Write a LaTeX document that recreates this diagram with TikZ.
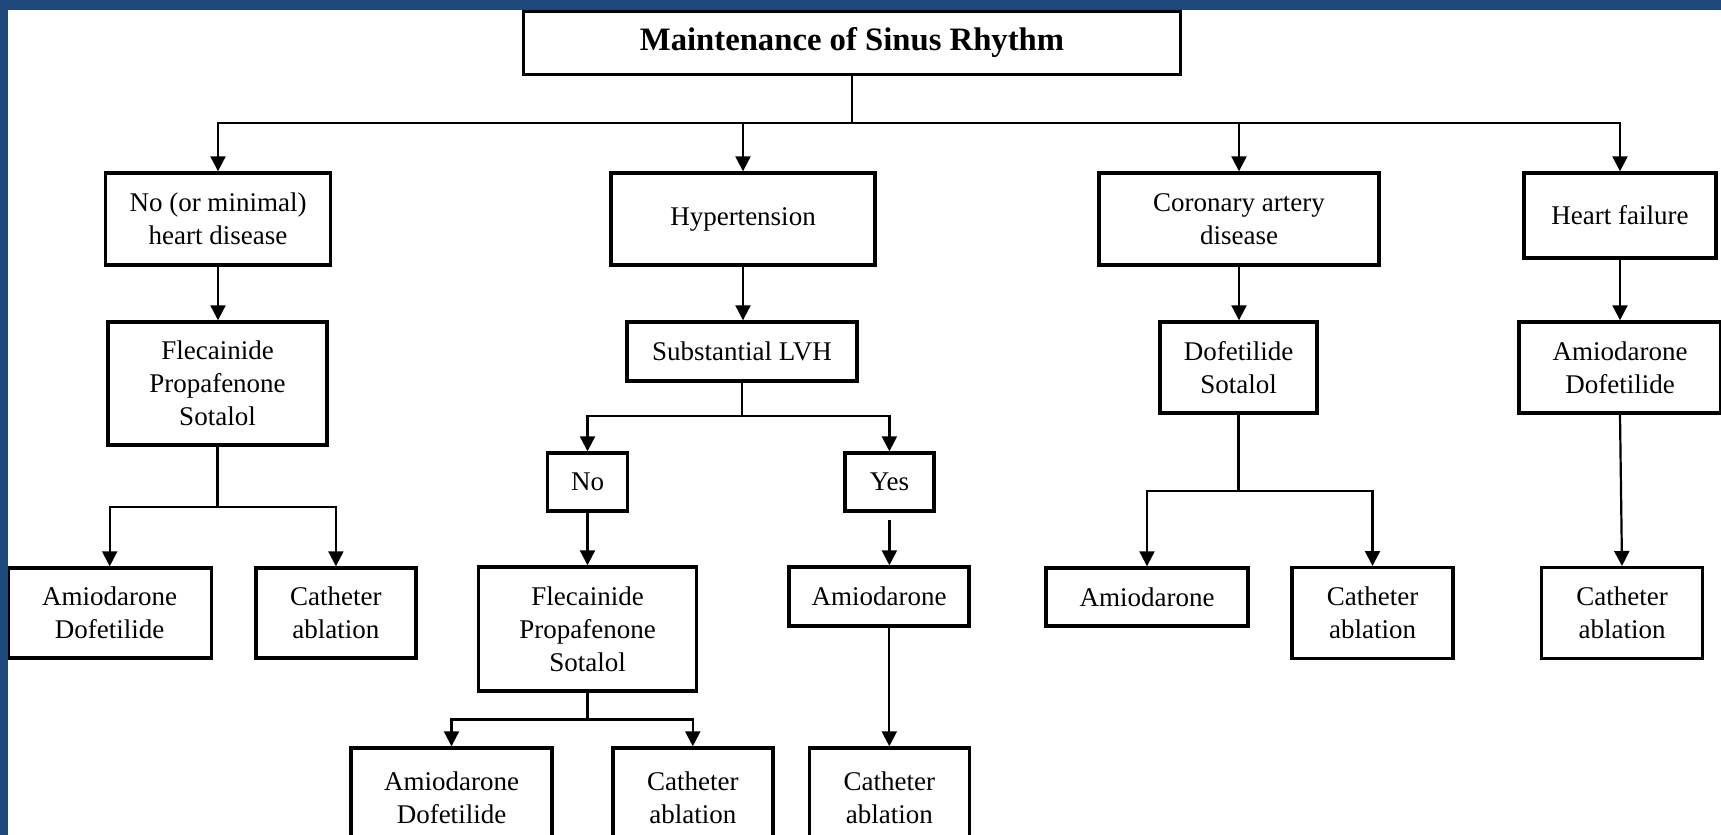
\documentclass[tikz,border=0pt]{standalone}
\usepackage{fontspec}
\setmainfont{Liberation Serif}
\usetikzlibrary{arrows.meta}
\definecolor{frameblue}{RGB}{31,73,125}
\begin{document}
\begin{tikzpicture}[x=1pt,y=-1pt,
  box/.style={draw, line width=3.4pt, inner sep=0pt, align=center,
    font=\fontsize{27}{33}\selectfont},
  conn/.style={line width=2.2pt},
  arr/.style={conn, -{Triangle[length=15pt,width=15pt]}}]
\useasboundingbox (0,0) rectangle (1721,835);
\clip (0,0) rectangle (1721,835);
\fill[white] (0,0) rectangle (1721,835);

% root
\node[box, minimum width=657pt, minimum height=63pt,
  font=\fontsize{32.7}{38}\selectfont\bfseries] (top) at (852,43) {Maintenance of Sinus Rhythm};

% first level: underlying condition
\node[box, minimum width=225pt, minimum height=92pt] (A) at (218,219) {No (or minimal)\\heart disease};
\node[box, minimum width=264pt, minimum height=92pt] (B) at (743,219) {Hypertension};
\node[box, minimum width=280pt, minimum height=92pt] (C) at (1239,219) {Coronary artery\\disease};
\node[box, minimum width=192pt, minimum height=85pt] (D) at (1620,215.5) {Heart failure};

% second level
\node[box, minimum width=219pt, minimum height=123pt] (A2) at (217.5,383.5) {Flecainide\\Propafenone\\Sotalol};
\node[box, minimum width=230pt, minimum height=59pt] (B2) at (742,351.5) {Substantial LVH};
\node[box, minimum width=157pt, minimum height=91pt] (C2) at (1238.5,367.5) {Dofetilide\\Sotalol};
\node[box, minimum width=202pt, minimum height=91pt] (D2) at (1620,367.5) {Amiodarone\\Dofetilide};

% no / minimal heart disease branch
\node[box, minimum width=203pt, minimum height=90pt] (A3a) at (109.7,613) {Amiodarone\\Dofetilide};
\node[box, minimum width=160pt, minimum height=90pt] (A3b) at (335.9,613) {Catheter\\ablation};

% hypertension branch
\node[box, minimum width=80pt, minimum height=58pt] (no) at (587.5,482) {No};
\node[box, minimum width=89pt, minimum height=58pt] (yes) at (889.4,482) {Yes};
\node[box, minimum width=218pt, minimum height=124pt] (F2) at (587.5,629) {Flecainide\\Propafenone\\Sotalol};
\node[box, minimum width=180pt, minimum height=59pt] (amio) at (879,596.5) {Amiodarone};
\node[box, minimum width=201pt, minimum height=100pt] (B3a) at (451.5,798) {Amiodarone\\Dofetilide};
\node[box, minimum width=160pt, minimum height=100pt] (B3b) at (692.8,798) {Catheter\\ablation};
\node[box, minimum width=160pt, minimum height=100pt] (Y3) at (889.3,798) {Catheter\\ablation};

% coronary artery disease branch
\node[box, minimum width=202pt, minimum height=58pt] (C3a) at (1147,597) {Amiodarone};
\node[box, minimum width=161pt, minimum height=91pt] (C3b) at (1372.5,613.2) {Catheter\\ablation};

% heart failure branch
\node[box, minimum width=161pt, minimum height=91pt] (D3) at (1622,613.2) {Catheter\\ablation};

% connectors
\coordinate (bus1) at (852,123);
\draw[conn] (top.south) -- (bus1);
\foreach \n in {A,B,C,D} \draw[arr] (bus1) -| (\n.north);

\draw[arr] (A.south) -- (A.south |- A2.north);
\coordinate (busA) at (217.5,507);
\draw[conn] (A2.south) -- (busA);
\draw[arr] (busA) -| (A3a.north);
\draw[arr] (busA) -| (A3b.north);

\draw[arr] (B.south) -- (B.south |- B2.north);
\coordinate (busB) at (742,416);
\draw[conn] (B2.south) -- (busB);
\draw[arr] (busB) -| (no.north);
\draw[arr] (busB) -| (yes.north);
\draw[arr] (no.south) -- (F2.north);
\draw[arr] ([yshift=-7pt]yes.south) -- (yes.south |- amio.north);
\coordinate (busF) at (587.5,719.5);
\draw[conn] (F2.south) -- (busF);
\draw[arr] (busF) -| (B3a.north);
\draw[arr] (busF) -| (B3b.north);
\draw[arr] (Y3.north |- amio.south) -- (Y3.north);

\draw[arr] (C.south) -- (C.south |- C2.north);
\coordinate (busC) at (1238.5,490.7);
\draw[conn] (C2.south) -- (busC);
\draw[arr] (busC) -| (C3a.north);
\draw[arr] (busC) -| (C3b.north);

\draw[arr] (D.south) -- (D2.north);
\draw[arr] (D2.south) -- (D3.north);

% frame bands along the top and left edges
\fill[frameblue] (0,0) rectangle (1721,9.5);
\fill[frameblue] (0,0) rectangle (7.7,835);
\end{tikzpicture}
\end{document}
